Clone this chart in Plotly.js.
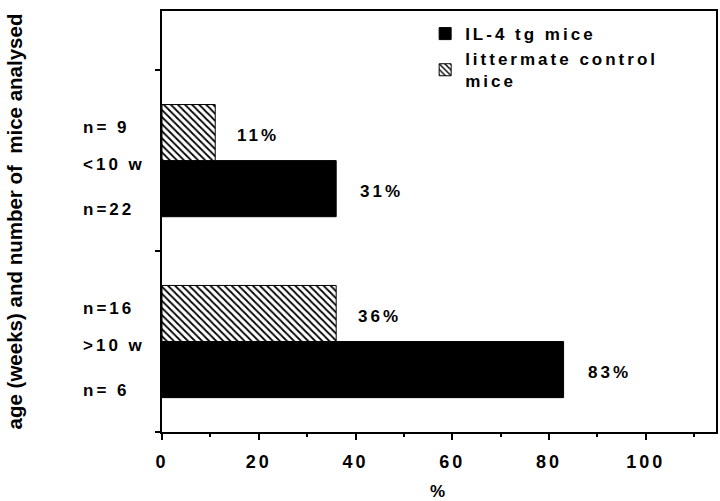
<!DOCTYPE html>
<html>
<head>
<meta charset="utf-8">
<script src="https://cdn.plot.ly/plotly-3.0.1.min.js"></script>
<style>
  html, body { margin: 0; padding: 0; background: #fff; }
  #chart { width: 720px; height: 501px; }
  svg text { letter-spacing: 3px; }
  svg .ytitle, svg .ytitle * { letter-spacing: 0px; }
</style>
</head>
<body>
<div id="chart"></div>
<script>
// ---- data ----
const groups      = ['>10 w', '<10 w'];
const tgPct       = [83, 36];          // bar lengths, IL-4 tg mice
const tgLabels    = ['83%', '31%'];
const tgN         = ['n= 6', 'n=22'];
const ctrlPct     = [36, 11];          // bar lengths, littermate control mice
const ctrlLabels  = ['36%', '11%'];
const ctrlN       = ['n=16', 'n= 9'];
const xTickVals   = [0, 20, 40, 60, 80, 100];
const xTickText   = ['0', '20', '40', '60', '80', '100'];

// ---- build ----
const B = s => '<b>' + s + '</b>';
const yPos = groups.map((g, i) => i + 0.5);
const FONT = 'Liberation Sans, Arial, Helvetica, sans-serif';
const BAR_HALF = 0.155;

const traces = [
  {
    type: 'bar', orientation: 'h', name: B('IL-4 tg mice'),
    x: tgPct, y: yPos,
    marker: { color: '#000', line: { color: '#000', width: 1 } },
    hoverinfo: 'skip'
  },
  {
    type: 'bar', orientation: 'h', name: B('littermate control') + '<br>' + B('mice'),
    x: ctrlPct, y: yPos,
    marker: {
      color: '#fff',
      line: { color: '#000', width: 1 },
      pattern: { shape: '\\', fgcolor: '#000', bgcolor: '#fff', size: 5, solidity: 0.35 }
    },
    hoverinfo: 'skip'
  }
];

const annFont = { family: FONT, size: 17, color: '#000' };
const annotations = [];
groups.forEach((g, i) => {
  // left-side labels
  annotations.push({ xref: 'paper', yref: 'y', x: -0.147, y: yPos[i], xanchor: 'left', yanchor: 'middle',
    text: B(g), showarrow: false, font: annFont, yshift: -4 });
  annotations.push({ xref: 'paper', yref: 'y', x: -0.147, y: yPos[i] + BAR_HALF, xanchor: 'left', yanchor: 'middle',
    text: B(ctrlN[i]), showarrow: false, font: annFont, yshift: 5 });
  annotations.push({ xref: 'paper', yref: 'y', x: -0.147, y: yPos[i] - BAR_HALF, xanchor: 'left', yanchor: 'middle',
    text: B(tgN[i]), showarrow: false, font: annFont, yshift: -21 });
  // percentage labels
  annotations.push({ xref: 'x', yref: 'y', x: ctrlPct[i], y: yPos[i] + BAR_HALF, xanchor: 'left', yanchor: 'middle',
    text: B(ctrlLabels[i]), showarrow: false, font: annFont, xshift: 20, yshift: -3 });
  annotations.push({ xref: 'x', yref: 'y', x: tgPct[i], y: yPos[i] - BAR_HALF, xanchor: 'left', yanchor: 'middle',
    text: B(tgLabels[i]), showarrow: false, font: annFont, xshift: 22, yshift: -3 });
});

const layout = {
  width: 720, height: 501,
  margin: { l: 162, r: 4, t: 11, b: 69 },
  paper_bgcolor: '#fff', plot_bgcolor: '#fff',
  font: { family: FONT, size: 17, color: '#000' },
  barmode: 'group', bargap: 0.38, bargroupgap: 0,
  showlegend: true,
  legend: {
    x: 0.475, y: 0.988, xanchor: 'left', yanchor: 'top',
    bgcolor: 'rgba(0,0,0,0)', borderwidth: 0,
    font: { family: FONT, size: 17, color: '#000' },
    traceorder: 'normal', tracegroupgap: 0
  },
  xaxis: {
    range: [0, 114.5], autorange: false,
    tickvals: xTickVals, ticktext: xTickText.map(B),
    ticks: 'outside', ticklen: 6, tickwidth: 2, tickcolor: '#000',
    minor: { dtick: 10, ticks: 'outside', ticklen: 3, tickwidth: 2, tickcolor: '#000' },
    showline: true, linecolor: '#000', linewidth: 2, mirror: true,
    showgrid: false, zeroline: false,
    tickfont: { family: FONT, size: 18, color: '#000' },
    ticklabelstandoff: 6,
    title: { text: B('%'), font: { family: FONT, size: 17, color: '#000' }, standoff: 22 },
    fixedrange: true
  },
  yaxis: {
    range: [0, 2.327], autorange: false,
    tickvals: [0, 1, 2], showticklabels: false,
    ticks: 'outside', ticklen: 5, tickwidth: 2, tickcolor: '#000',
    showline: true, linecolor: '#000', linewidth: 2, mirror: true,
    showgrid: false, zeroline: false,
    title: { text: B('age (weeks) and number of  mice analysed'),
             font: { family: FONT, size: 20.5, color: '#000' }, standoff: 127 },
    fixedrange: true
  },
  annotations: annotations
};

Plotly.newPlot('chart', traces, layout, { staticPlot: true, displayModeBar: false });
</script>
</body>
</html>
